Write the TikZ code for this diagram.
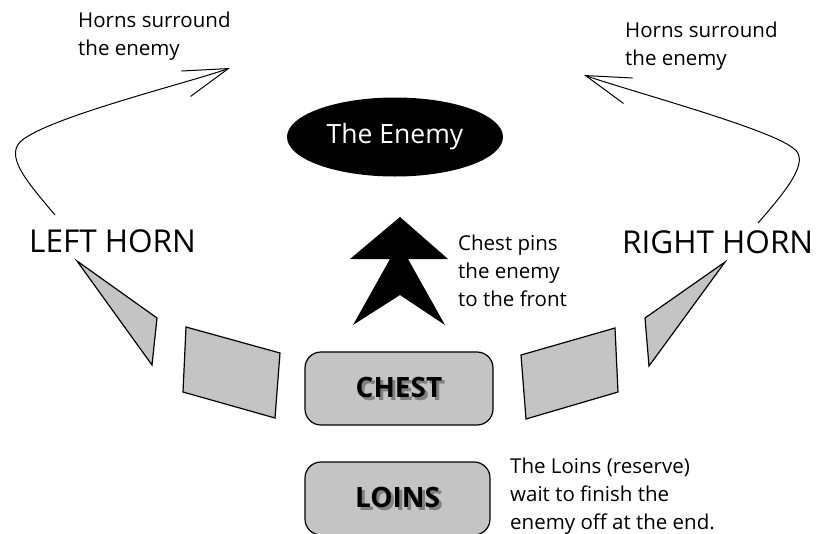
\documentclass[tikz,border=0pt]{standalone}
\usepackage{fontspec}
\setmainfont{Open Sans}
\usetikzlibrary{arrows.meta,shapes.geometric}
\newcommand{\shadowed}[1]{\makebox[0pt][l]{\hspace{3pt}\raisebox{-3pt}{\color{black!50}#1}}#1}
\tikzset{
  flank/.style={draw, line width=1.2pt, fill=black!23},
  squad/.style={draw, line width=1.2pt, fill=black!23, rounded corners=16pt,
    minimum width=188pt, minimum height=73pt, inner sep=0pt,
    font=\fontsize{28}{32}\selectfont\bfseries},
  note/.style={align=left, inner sep=0pt, font=\fontsize{20.5}{28}\selectfont},
  hornlabel/.style={inner sep=0pt, font=\fontsize{31.5}{36}\selectfont}
}
\begin{document}
\begin{tikzpicture}[x=1pt, y=-1pt]
\useasboundingbox (0,0) rectangle (829,533);
\node[ellipse, fill=black, text=white, minimum width=216pt, minimum height=79pt,
  inner sep=0pt, font=\fontsize{26.5}{30}\selectfont] (enemy) at (395,137) {The Enemy};
\node[note, anchor=north west] (hornsL) at (78,12) {Horns surround\\the enemy};
\node[note, anchor=north west] (hornsR) at (625,22) {Horns surround\\the enemy};
\node[hornlabel, anchor=base west] (lefthorn) at (29,252) {LEFT HORN};
\node[hornlabel, anchor=base west] (righthorn) at (622,253) {RIGHT HORN};
\node[note, anchor=north west] (pinnote) at (458,235) {Chest pins\\the enemy\\to the front};
\node[note, anchor=north west] (reservenote) at (510,458) {The Loins (reserve)\\wait to finish the\\enemy off at the end.};
\node[squad] (chest) at (399,388.5) {\shadowed{CHEST}};
\node[squad, minimum width=185pt] (loins) at (397.5,498.5) {\shadowed{LOINS}};
\draw[flank] (77,261) -- (157,318) -- (152,365) -- cycle;
\draw[flank] (186,327) -- (280,353) -- (275,418) -- (183,392) -- cycle;
\draw[flank] (521,355) -- (615,328) -- (618,392) -- (526,419) -- cycle;
\draw[flank] (725,262) -- (645,318) -- (649,366) -- cycle;
\fill (400,217) -- (448,259) -- (408,259) -- (445,325) -- (400,295) -- (353,325)
  -- (390,259) -- (350,259) -- cycle;
\coordinate (tailL) at (55,215);
\coordinate (tipL) at (230,68);
\coordinate (tailR) at (758,223);
\coordinate (tipR) at (584,75);
\draw[line width=1pt, -{Straight Barb[length=45pt,width=27pt]}] (tailL)
  .. controls (30,185) and (5,158) .. (20,142)
  .. controls (45,118) and (188,83) .. (tipL);
\draw[line width=1pt, -{Straight Barb[length=45pt,width=27pt]}] (tailR)
  .. controls (785,192) and (812,160) .. (793,148)
  .. controls (768,128) and (626,90) .. (tipR);
\end{tikzpicture}
\end{document}
